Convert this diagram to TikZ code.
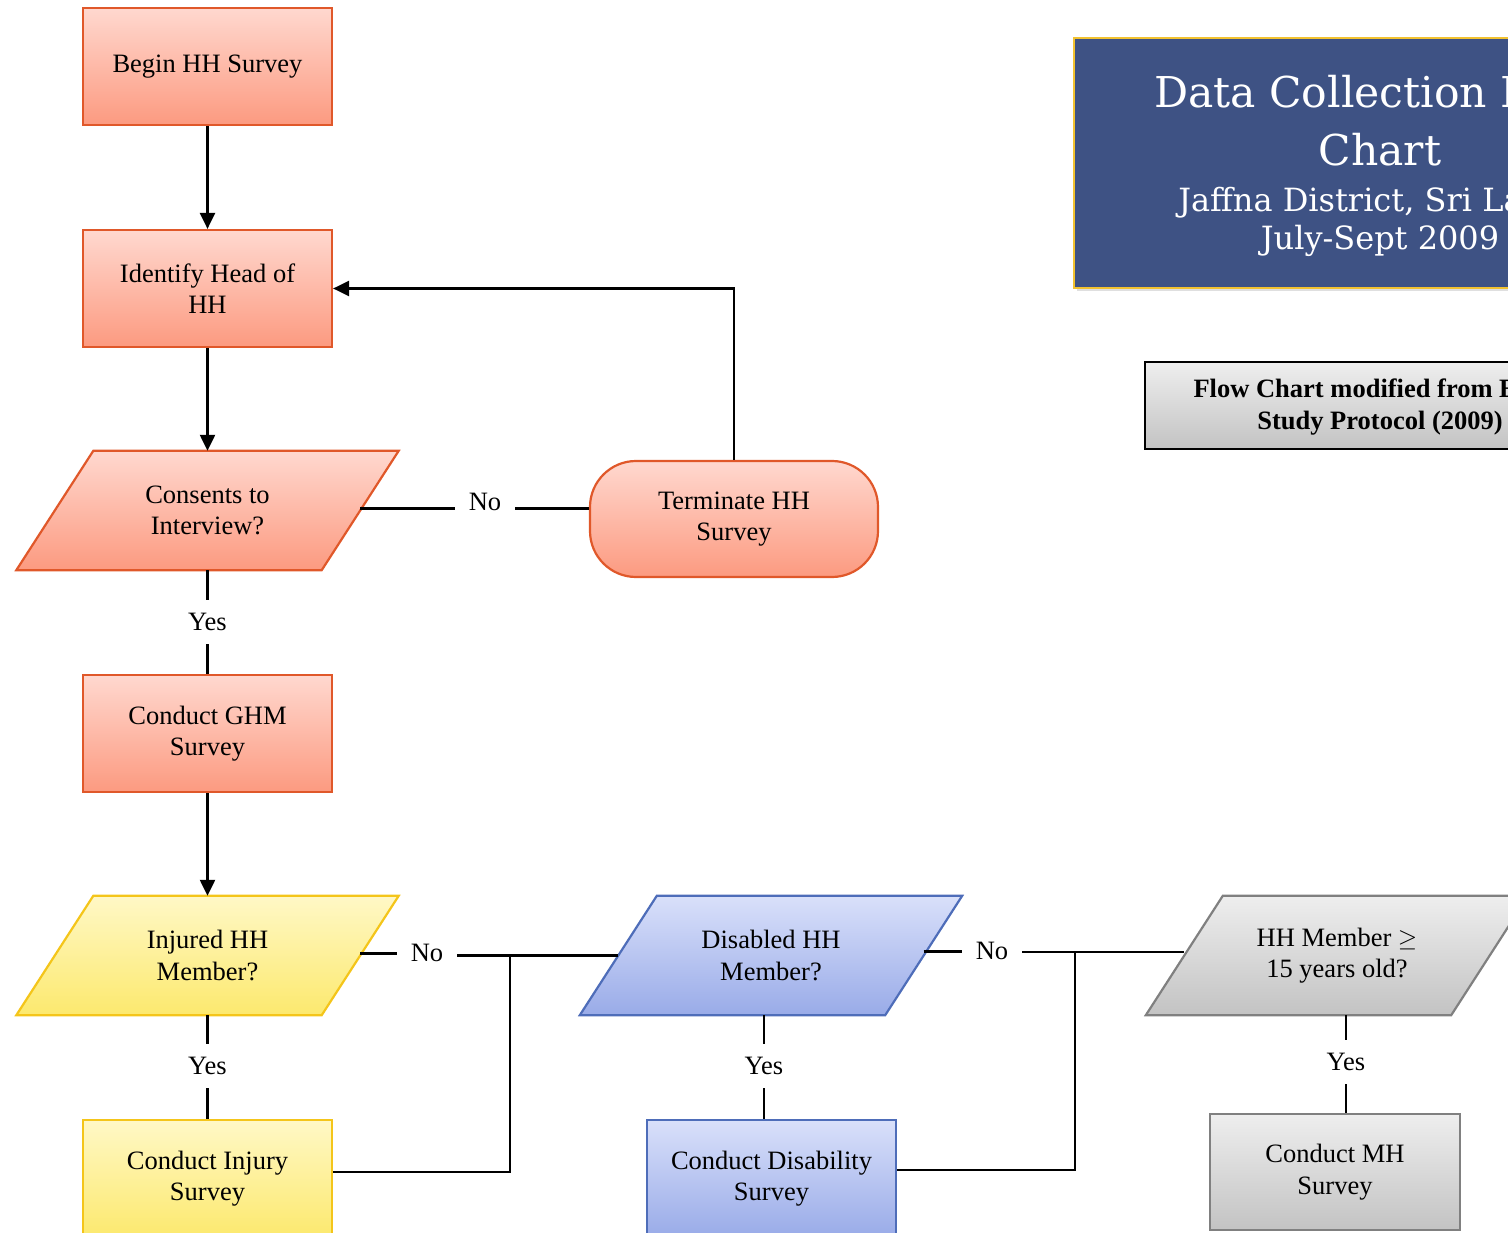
\documentclass[tikz,border=0pt]{standalone}
\usepackage{fontspec}
\setmainfont{Liberation Serif}
\newfontfamily\titlefont{DejaVu Serif}
\usetikzlibrary{arrows.meta,calc,backgrounds,shadows}

\definecolor{redline}{HTML}{E0582A}
\definecolor{redtop}{HTML}{FFD8CF}
\definecolor{redbot}{HTML}{FC9A80}
\definecolor{yelline}{HTML}{F4C51A}
\definecolor{yeltop}{HTML}{FFF8C6}
\definecolor{yelbot}{HTML}{FCE96E}
\definecolor{blueline}{HTML}{4E6DB9}
\definecolor{bluetop}{HTML}{D9E0FA}
\definecolor{bluebot}{HTML}{99ABE8}
\definecolor{greyline}{HTML}{808080}
\definecolor{greytop}{HTML}{EEEEEE}
\definecolor{greybot}{HTML}{C3C3C3}
\definecolor{navy}{HTML}{3E5284}
\definecolor{gold}{HTML}{F2C230}

% parallelogram drawn around a named node (slant of 38.5pt each side)
\newcommand\slantbox[2]{%
  \path[#2] ([xshift=38.5pt]#1.north west) -- ([xshift=38.5pt]#1.north east)
    -- ([xshift=-38.5pt]#1.south east) -- ([xshift=-38.5pt]#1.south west) -- cycle;}

\tikzset{
  every node/.style={font=\fontsize{26.5}{31.5}\selectfont, align=center},
  conn/.style={line width=2.4pt, black},
  arr/.style={conn, -{Triangle[length=16pt,width=15pt]}},
  boxnode/.style={minimum width=249pt, minimum height=117pt, inner sep=0pt},
  paranode/.style={minimum width=305pt, minimum height=119pt, inner sep=0pt},
  redfill/.style={top color=redtop, bottom color=redbot, draw=redline, line width=2.2pt},
  yelfill/.style={top color=yeltop, bottom color=yelbot, draw=yelline, line width=2.2pt},
  bluefill/.style={top color=bluetop, bottom color=bluebot, draw=blueline, line width=2.2pt},
  greyfill/.style={top color=greytop, bottom color=greybot, draw=greyline, line width=2.2pt},
  lbl/.style={inner xsep=14pt, inner ysep=13pt},
}

\begin{document}
\begin{tikzpicture}[x=1pt, y=-1pt]
\useasboundingbox (0,0) rectangle (1508,1233);

% ---- title panel ----
\node[minimum width=612pt, minimum height=250pt, fill=navy, draw=gold, line width=2.2pt,
      drop shadow={shadow xshift=3pt, shadow yshift=-3pt, opacity=0.25}] (ttlbox) at (1380,163) {};
\node[anchor=base, text=white, font=\titlefont\fontsize{42.5}{48}\selectfont] (tt1) at (1380,108) {Data Collection Flow};
\node[anchor=base, text=white, font=\titlefont\fontsize{42.5}{48}\selectfont] (tt2) at (1380,166) {Chart};
\node[anchor=base, text=white, font=\titlefont\fontsize{32}{36}\selectfont] (tt3) at (1380,212) {Jaffna District, Sri Lanka};
\node[anchor=base, text=white, font=\titlefont\fontsize{32}{36}\selectfont] (tt4) at (1380,250) {July-Sept 2009};

% ---- source note ----
\node[minimum width=470pt, minimum height=87pt, top color=greytop, bottom color=greybot,
      draw=black, line width=2.4pt] (note) at (1380,405.5) {};
\node[anchor=base west, font=\bfseries\fontsize{26.5}{31.5}\selectfont] (nt1) at (1190,398) {Flow Chart modified from E};
\node[anchor=base, font=\bfseries\fontsize{26.5}{31.5}\selectfont] (nt2) at (1380,429) {Study Protocol (2009)};

% ---- main column ----
\node[boxnode, redfill] (begin) at (207.5,66.5) {Begin HH Survey};
\node[boxnode, redfill] (ident) at (207.5,288.5) {Identify Head of\\HH};
\node[paranode] (cons) at (207.5,510.5) {Consents to\\Interview?};
\node[boxnode, redfill, minimum width=288pt, minimum height=116pt, rounded corners=46pt] (term) at (734,519) {Terminate HH\\Survey};
\node[boxnode, redfill] (ghm) at (207.5,733.5) {Conduct GHM\\Survey};
\node[paranode] (inj) at (207.5,955.5) {Injured HH\\Member?};
\node[boxnode, yelfill] (injs) at (207.5,1178.5) {Conduct Injury\\Survey};
\node[paranode] (dis) at (771,955.5) {Disabled HH\\Member?};
\node[boxnode, bluefill] (diss) at (771.5,1178.5) {Conduct Disability\\Survey};
\node[paranode] (hhm) at (1337,955.5) {HH Member $\geq$\\15 years old?};
\node[boxnode, greyfill, minimum width=250pt, minimum height=116pt] (mh) at (1335,1172) {Conduct MH\\Survey};

% parallelogram outlines behind their texts
\begin{scope}[on background layer]
  \slantbox{cons}{redfill}
  \slantbox{inj}{yelfill}
  \slantbox{dis}{bluefill}
  \slantbox{hhm}{greyfill}
\end{scope}

% ---- branch labels ----
\node[lbl] (no1) at (485,502) {No};
\node[lbl] (yes1) at (207.5,622) {Yes};
\node[lbl] (no2) at (427,953) {No};
\node[lbl] (yes2) at (207.5,1066) {Yes};
\node[lbl] (no3) at (992,951) {No};
\node[lbl] (yes3) at (764,1066) {Yes};
\node[lbl] (yes4) at (1346,1062) {Yes};

\coordinate (j1) at (510,0);
\coordinate (j2) at (1075,0);

% ---- connectors ----
\draw[arr] (begin.south) -- (ident.north);
\draw[arr] (ident.south) -- (cons.north);
\draw[conn] ([yshift=2pt]cons.east) -- ([yshift=2pt]cons.east -| no1.west);
\draw[conn] ([yshift=2pt]cons.east -| no1.east) -- ([yshift=2pt]cons.east -| term.west);
\draw[arr] (term.north) |- (ident.east);
\draw[conn] (cons.south) -- (yes1.north);
\draw[conn] (yes1.south) -- (ghm.north);
\draw[arr] (ghm.south) -- (inj.north);

\draw[conn] ([yshift=2pt]inj.east) -- ([yshift=2pt]inj.east -| no2.west);
\draw[conn] (inj.east -| no2.east) -- (inj.east -| dis.west);
\draw[conn] (inj.east -| j1) |- ([yshift=6.5pt]injs.east);
\draw[conn] (inj.south) -- (yes2.north);
\draw[conn] (yes2.south) -- (injs.north);

\draw[conn] ([yshift=4pt]dis.east) -- ([yshift=4pt]dis.east -| no3.west);
\draw[conn] ([yshift=3.5pt]dis.east -| no3.east) -- ([yshift=3.5pt]dis.east -| hhm.west);
\draw[conn] ([yshift=3.5pt]dis.east -| j2) |- ([yshift=8.5pt]diss.east);
\draw[conn] (yes3 |- dis.south) -- (yes3.north);
\draw[conn] (yes3.south) -- (yes3 |- diss.north);

\draw[conn] (yes4 |- hhm.south) -- (yes4.north);
\draw[conn] (yes4.south) -- (yes4 |- mh.north);
\end{tikzpicture}
\end{document}
